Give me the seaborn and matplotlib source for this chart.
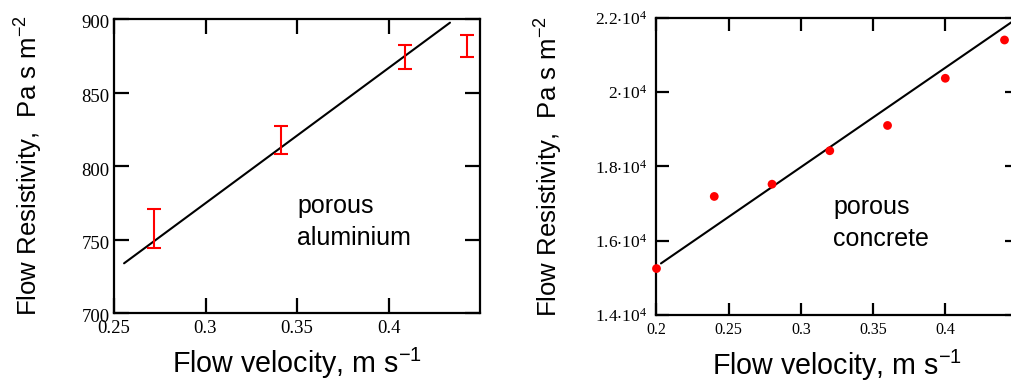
import numpy as np
import pandas as pd
import matplotlib
matplotlib.use("Agg")
import matplotlib.pyplot as plt
import matplotlib.transforms as mtransforms
import seaborn as sns

# ---- data: porous aluminium ----
alu_v = [0.272, 0.341, 0.409, 0.443]
alu_r = [757.5, 818.0, 874.0, 881.5]
alu_err = [13.0, 9.5, 8.3, 7.5]
alu_fit_v = [0.2555, 0.4336]
alu_fit_r = [733.8, 897.5]

# ---- data: porous concrete ----
con_v = [0.200, 0.240, 0.280, 0.320, 0.360, 0.400, 0.441]
con_r = [15250, 17190, 17520, 18420, 19100, 20370, 21400]
con_fit_v = [0.2031, 0.4470]
con_fit_r = [15388, 21910]

alu_xticks = [0.25, 0.3, 0.35, 0.4]
alu_xticklabels = ["0.25", "0.3", "0.35", "0.4"]
alu_yticks = [700, 750, 800, 850, 900]
alu_yticklabels = ["700", "750", "800", "850", "900"]
con_xticks = [0.2, 0.25, 0.3, 0.35, 0.4]
con_xticklabels = ["0.2", "0.25", "0.3", "0.35", "0.4"]
con_yticks = [14000, 16000, 18000, 20000, 22000]
con_yticklabels = [r"$\mathregular{1.4{\cdot}10^4}$", r"$\mathregular{1.6{\cdot}10^4}$",
                   r"$\mathregular{1.8{\cdot}10^4}$", r"$\mathregular{2{\cdot}10^4}$",
                   r"$\mathregular{2.2{\cdot}10^4}$"]

sns.set_theme(style="ticks")
plt.rcParams["font.family"] = ["Liberation Sans", "DejaVu Sans"]
plt.rcParams["mathtext.fontset"] = "custom"
plt.rcParams["mathtext.rm"] = "Liberation Sans"
plt.rcParams["text.color"] = "black"
plt.rcParams["axes.labelcolor"] = "black"
plt.rcParams["xtick.color"] = "black"
plt.rcParams["ytick.color"] = "black"

fig = plt.figure(figsize=(10.12, 3.83), dpi=100)
ax1 = fig.add_axes([114 / 1012, 70 / 383, 366 / 1012, 294 / 383])
ax2 = fig.add_axes([656.5 / 1012, 68 / 383, 361 / 1012, 297.3 / 383])

serif = "Liberation Serif"

# left panel
sns.lineplot(x=alu_fit_v, y=alu_fit_r, ax=ax1, color="black", lw=1.5)
ax1.errorbar(alu_v, alu_r, yerr=alu_err, fmt="none", ecolor="red",
             elinewidth=1.5, capsize=5, capthick=1.5)
ax1.set_xlim(0.25, 0.45)
ax1.set_ylim(700, 900)
ax1.set_xticks(alu_xticks)
ax1.set_xticklabels(alu_xticklabels, family=serif, fontsize=13.5, color="black")
ax1.set_yticks(alu_yticks)
ax1.set_yticklabels(alu_yticklabels, family=serif, fontsize=13.5, color="black")
ax1.text(0.5, 0.31, "porous\naluminium", transform=ax1.transAxes,
         fontsize=18, ha="left", va="center", linespacing=1.42, color="black")

# right panel
sns.scatterplot(x=con_v, y=con_r, ax=ax2, color="red", s=40, edgecolor="none",
                zorder=3, clip_on=False)
sns.lineplot(x=con_fit_v, y=con_fit_r, ax=ax2, color="black", lw=1.5)
ax2.set_xlim(0.2, 0.45)
ax2.set_ylim(14000, 22000)
ax2.set_xticks(con_xticks)
ax2.set_xticklabels(con_xticklabels, family=serif, fontsize=11.5, color="black")
ax2.set_yticks(con_yticks)
ax2.set_yticklabels(con_yticklabels, family=serif, fontsize=12.5, color="black")
ax2.text(0.49, 0.31, "porous\nconcrete", transform=ax2.transAxes,
         fontsize=18, ha="left", va="center", linespacing=1.42, color="black")

for ax, tl in ((ax1, 11), (ax2, 9)):
    for s in ax.spines.values():
        s.set_visible(True)
        s.set_linewidth(1.6)
        s.set_color("black")
    ax.tick_params(direction="in", length=tl, width=1.6, top=True, right=True,
                   colors="black")
    ax.set_xlabel(r"Flow velocity, m s$^{-1}$", fontsize=20.6, color="black")
    ax.set_ylabel(r"Flow Resistivity,  Pa s m$^{-2}$", fontsize=18.5, color="black")
    ax.xaxis.set_label_coords(0.5, -0.11)
    ax.tick_params(axis="x", pad=5)

ax1.tick_params(axis="y", pad=3)
ax2.tick_params(axis="y", pad=7)
ax1.yaxis.set_label_coords(-0.19, 0.5)
ax2.yaxis.set_label_coords(-0.255, 0.5)

off = mtransforms.ScaledTranslation(0, -3 / 100, fig.dpi_scale_trans)
for lab in ax1.get_yticklabels():
    lab.set_transform(lab.get_transform() + off)

fig.savefig("out.png", dpi=100)
